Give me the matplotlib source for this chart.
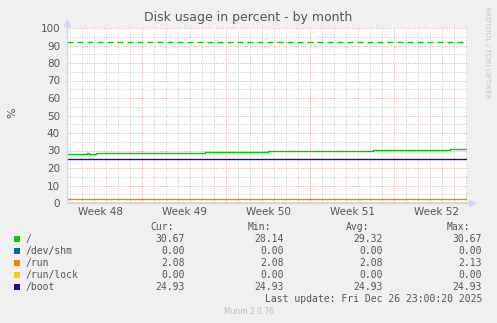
import matplotlib
matplotlib.use("Agg")
import matplotlib.pyplot as plt
from matplotlib.patches import Rectangle

W, H = 497, 323

# x axis is in days since Mon Nov 24 2025 00:00
x_start, x_end = 0.75, 34.083
mondays = [7, 14, 21, 28]
week_centers = [3.5, 10.5, 17.5, 24.5, 31.5]
week_labels = ["Week 48", "Week 49", "Week 50", "Week 51", "Week 52"]

root_days = [0.75, 2.42, 2.58, 3.17, 12.25, 17.5, 26.25, 32.67, 34.0]
root_vals = [28.14, 28.45, 28.14, 28.7, 29.15, 29.6, 30.2, 30.67, 30.67]
flat_days = [0.75, 34.0]
shm_vals = [0.0, 0.0]
run_vals = [2.08, 2.08]
lock_vals = [0.0, 0.0]
boot_vals = [24.93, 24.93]
root_warning = 92

names = ["/", "/dev/shm", "/run", "/run/lock", "/boot"]
colors = ["#00CC00", "#0066B3", "#FF8000", "#FFCC00", "#330099"]
cur = ["30.67", "0.00", "2.08", "0.00", "24.93"]
mins = ["28.14", "0.00", "2.08", "0.00", "24.93"]
avgs = ["29.32", "0.00", "2.08", "0.00", "24.93"]
maxs = ["30.67", "0.00", "2.13", "0.00", "24.93"]

FONT = "#555555"
AXIS = "#CFD6F8"


def fx(px):
    return px / W


def fy(py):
    return 1 - py / H


fig = plt.figure(figsize=(W / 100, H / 100), dpi=100, facecolor="#F0F0F0")
ax = fig.add_axes([fx(67), fy(203), fx(467) - fx(67), fy(28) - fy(203)])
ax.set_facecolor("white")

ax.plot(flat_days, shm_vals, color=colors[1], lw=1)
ax.plot(flat_days, lock_vals, color=colors[3], lw=1)
ax.plot(flat_days, run_vals, color=colors[2], lw=1)
ax.plot(flat_days, boot_vals, color=colors[4], lw=1)
ax.step(root_days, root_vals, where="post", color=colors[0], lw=1)
ax.plot(flat_days, [root_warning] * 2, color=colors[0], lw=1, dashes=(4.3, 2.9))

ax.set_xlim(x_start, x_end)
ax.set_ylim(0, 100)

ax.set_xticks(mondays)
ax.set_xticks([d + 0.0 for d in range(1, 35) if d % 7 != 0], minor=True)
ax.set_xticklabels([])
ax.set_yticks(range(0, 101, 10))
ax.set_yticks(range(5, 100, 10), minor=True)
ax.tick_params(axis="both", which="both", length=0)
ax.tick_params(axis="y", labelsize=7.5, labelcolor=FONT, pad=5)
ax.grid(True, which="major", color="#E8A0A0", linestyle=(0, (1, 1.5)), lw=0.7)
ax.grid(True, which="minor", color="#C8C8C8", linestyle=(0, (1, 1.5)), lw=0.7)
ax.set_axisbelow(True)

for s in ["top", "right"]:
    ax.spines[s].set_visible(False)
for s in ["left", "bottom"]:
    ax.spines[s].set_color(AXIS)
    ax.spines[s].set_linewidth(1)

# axis arrows
ax.plot([0, 0], [1, 1.03], color=AXIS, lw=1, transform=ax.transAxes, clip_on=False)
ax.plot([0], [1.03], marker="^", ms=4, color=AXIS, transform=ax.transAxes, clip_on=False)
ax.plot([1, 1.012], [0, 0], color=AXIS, lw=1, transform=ax.transAxes, clip_on=False)
ax.plot([1.012], [0], marker=">", ms=4, color=AXIS, transform=ax.transAxes, clip_on=False)

for c, lab in zip(week_centers, week_labels):
    ax.text(c, -2.5, lab, ha="center", va="top", fontsize=7.5, color=FONT)

fig.text(fx(248), fy(18), "Disk usage in percent - by month", ha="center", va="center",
         fontsize=9, color=FONT)
fig.text(fx(12), fy(113), "%", rotation=90, ha="center", va="center", fontsize=8, color=FONT)
fig.text(fx(487), fy(52), "RRDTOOL / TOBI OETIKER", rotation=270, ha="center", va="center",
         fontsize=5.2, color="#C4C4C4")

mono = "DejaVu Sans Mono"
fs = 7
fig.text(fx(150), fy(227), "Cur:", fontsize=fs, family=mono, color=FONT, va="center")
fig.text(fx(248), fy(227), "Min:", fontsize=fs, family=mono, color=FONT, va="center")
fig.text(fx(346), fy(227), "Avg:", fontsize=fs, family=mono, color=FONT, va="center")
fig.text(fx(447), fy(227), "Max:", fontsize=fs, family=mono, color=FONT, va="center")

for i, name in enumerate(names):
    y = 239 + i * 12
    fig.patches.append(Rectangle((fx(14), fy(y + 3)), fx(6), fy(0) - fy(6),
                                 transform=fig.transFigure, facecolor=colors[i],
                                 edgecolor="none"))
    fig.text(fx(26), fy(y), name, fontsize=fs, family=mono, color=FONT, va="center")
    for col_x, vals in zip([185, 284, 383, 482], [cur, mins, avgs, maxs]):
        fig.text(fx(col_x), fy(y), vals[i], fontsize=fs, family=mono, color=FONT,
                 va="center", ha="right")

fig.text(fx(482), fy(299), "Last update: Fri Dec 26 23:00:20 2025", fontsize=fs,
         family=mono, color=FONT, va="center", ha="right")
fig.text(fx(249), fy(311), "Munin 2.0.76", fontsize=5.5, color="#BBBBBB",
         ha="center", va="center")

fig.savefig("out.png", dpi=100, facecolor=fig.get_facecolor())
